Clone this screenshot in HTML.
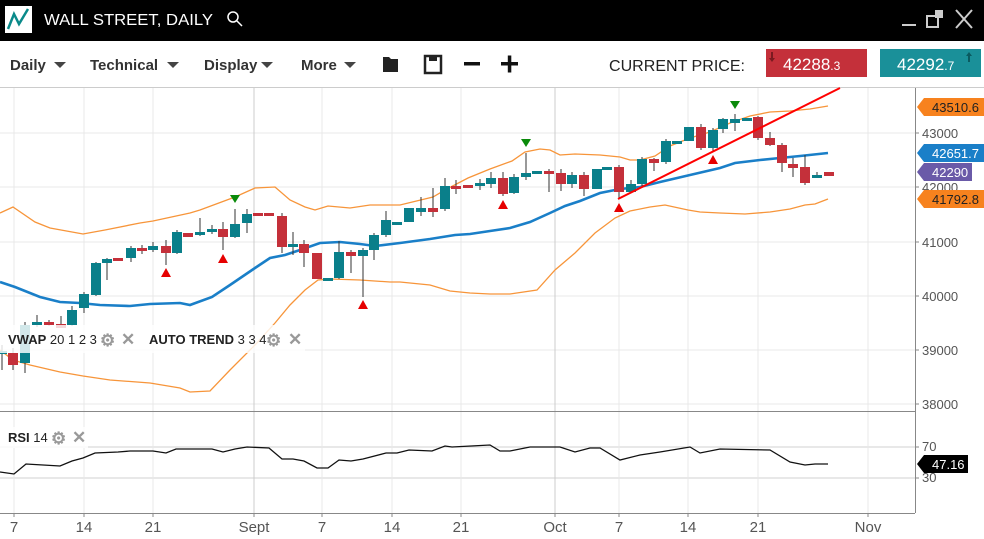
<!DOCTYPE html>
<html><head><meta charset="utf-8"><style>
body{margin:0;width:984px;height:539px;overflow:hidden;background:#fff;font-family:"Liberation Sans",sans-serif}
svg{display:block}
</style></head><body>
<svg width="984" height="539" viewBox="0 0 984 539" xmlns="http://www.w3.org/2000/svg" font-family="Liberation Sans, sans-serif">
<rect x="0" y="0" width="984" height="41" fill="#000"/>
<rect x="5" y="6" width="27" height="27" fill="#fff"/>
<polyline points="8,29 14,14 19,24 28,9" fill="none" stroke="#0a8a8a" stroke-width="2.5"/>
<text x="44" y="25" fill="#fff" font-size="16" textLength="169" lengthAdjust="spacingAndGlyphs">WALL STREET, DAILY</text>
<circle cx="233" cy="17" r="5" fill="none" stroke="#fff" stroke-width="1.5"/><line x1="237" y1="21" x2="242" y2="26" stroke="#fff" stroke-width="1.5"/>
<rect x="902" y="24" width="14" height="2" fill="#ccc"/>
<rect x="927" y="16" width="11" height="11" fill="none" stroke="#ccc" stroke-width="2"/><rect x="935" y="10" width="8" height="8" fill="#ccc"/>
<path d="M956 10 L972 28 M972 10 L956 28" stroke="#ccc" stroke-width="2"/>
<line x1="0" y1="87.5" x2="984" y2="87.5" stroke="#ccc"/>
<g font-size="15" font-weight="bold" fill="#333">
<text x="10" y="70">Daily</text><text x="90" y="70">Technical</text><text x="204" y="70">Display</text><text x="301" y="70">More</text></g>
<g fill="#444"><path d="M54 62h12l-6 6z"/><path d="M167 62h12l-6 6z"/><path d="M261 62h12l-6 6z"/><path d="M344 62h12l-6 6z"/></g>
<path d="M383 57h6l2 2h7v13h-15z" fill="#222"/>
<rect x="425" y="56" width="16" height="17" fill="none" stroke="#222" stroke-width="2.5"/><rect x="429" y="56" width="8" height="5" fill="#222"/>
<rect x="464" y="62" width="16" height="3.5" fill="#111"/>
<rect x="501" y="62" width="17" height="3.5" fill="#111"/><rect x="507.8" y="55.5" width="3.5" height="17" fill="#111"/>
<text x="609" y="71" font-size="16" fill="#222" textLength="136" lengthAdjust="spacingAndGlyphs">CURRENT PRICE:</text>
<rect x="766" y="49" width="101" height="28" fill="#c4303a"/>
<text x="783" y="70" font-size="17" fill="#fff">42288<tspan font-size="12">.3</tspan></text>
<path d="M771 52v6h-2l3 4 3-4h-2v-6z" fill="#7a1a20"/>
<rect x="880" y="49" width="101" height="28" fill="#1a9099"/>
<text x="897" y="70" font-size="17" fill="#fff">42292<tspan font-size="12">.7</tspan></text>
<path d="M968 62v-6h-2l3-4 3 4h-2v6z" fill="#0a5a60"/>

<g stroke="#e8e8e8" stroke-width="1">
<line x1="0" y1="133" x2="915" y2="133"/><line x1="0" y1="187" x2="915" y2="187"/><line x1="0" y1="242" x2="915" y2="242"/><line x1="0" y1="296" x2="915" y2="296"/><line x1="0" y1="350" x2="915" y2="350"/><line x1="0" y1="404" x2="915" y2="404"/>
<line x1="0" y1="447" x2="915" y2="447" stroke="#d0d0d0"/><line x1="0" y1="478" x2="915" y2="478" stroke="#d0d0d0"/>
<line x1="14" y1="88" x2="14" y2="513"/><line x1="84" y1="88" x2="84" y2="513"/><line x1="153" y1="88" x2="153" y2="513"/><line x1="322" y1="88" x2="322" y2="513"/><line x1="392" y1="88" x2="392" y2="513"/><line x1="461" y1="88" x2="461" y2="513"/><line x1="619" y1="88" x2="619" y2="513"/><line x1="688" y1="88" x2="688" y2="513"/><line x1="758" y1="88" x2="758" y2="513"/><line x1="868" y1="88" x2="868" y2="513"/>
<line x1="254" y1="88" x2="254" y2="513" stroke="#ccc"/><line x1="555" y1="88" x2="555" y2="513" stroke="#ccc"/>
</g>
<line x1="0" y1="411.5" x2="915" y2="411.5" stroke="#888"/>
<line x1="0" y1="513.5" x2="915" y2="513.5" stroke="#888"/>
<line x1="915.5" y1="88" x2="915.5" y2="513" stroke="#888"/>

<polyline fill="none" stroke="#f7953a" stroke-width="1.3" points="0,213 13,207 35,222 50,228 83,234 105,230 140,223 153,221 190,213 200,210 235,197 255,188 275,187 290,200 305,207 315,210 328,206 350,208 370,205 400,205 433,197 445,190 468,178 490,169 512,161 525,152 540,149 550,150 560,155 575,154 600,155 620,157 630,160 640,160 655,156 670,146 690,138 710,132 730,123 750,116 770,112 790,111 810,109 828,106"/>
<polyline fill="none" stroke="#f7953a" stroke-width="1.3" points="0,350 13,360 30,365 60,372 83,376 110,380 150,383 180,388 190,392 210,391 230,370 255,345 275,323 290,305 305,290 318,280 330,279 360,280 390,282 400,282 430,285 450,291 470,293 490,294 510,294 537,290 555,270 575,253 595,233 615,218 630,211 650,207 665,205 688,210 700,212 720,213 745,214 770,212 790,209 805,205 815,204 828,199"/>
<polyline fill="none" stroke="#1a7fc8" stroke-width="2.6" points="0,282 15,287 40,297 60,302 80,303 100,305 130,306 150,304 180,303 190,305 212,297 230,285 255,268 270,258 285,255 300,250 320,243 340,242 360,244 375,246 400,243 430,239 455,235 470,234 490,231 510,228 530,222 550,213 565,206 580,201 600,193 620,189 640,187 660,182 690,175 720,168 735,163 760,160 780,158 800,156 828,153"/>

<g stroke="#333" stroke-width="1">
<line x1="2" y1="345" x2="2" y2="370"/><line x1="13" y1="348" x2="13" y2="370"/><line x1="25" y1="322" x2="25" y2="373"/><line x1="37" y1="315" x2="37" y2="327"/><line x1="49" y1="320" x2="49" y2="326"/><line x1="61" y1="316" x2="61" y2="328"/><line x1="72" y1="306" x2="72" y2="326"/><line x1="84" y1="292" x2="84" y2="313"/><line x1="96" y1="262" x2="96" y2="296"/><line x1="107" y1="258" x2="107" y2="280"/><line x1="131" y1="246" x2="131" y2="262"/><line x1="142" y1="245" x2="142" y2="254"/><line x1="153" y1="242" x2="153" y2="252"/><line x1="166" y1="240" x2="166" y2="265"/><line x1="177" y1="230" x2="177" y2="254"/><line x1="200" y1="218" x2="200" y2="236"/><line x1="212" y1="225" x2="212" y2="234"/><line x1="223" y1="222" x2="223" y2="250"/><line x1="235" y1="209" x2="235" y2="238"/><line x1="247" y1="209" x2="247" y2="233"/><line x1="282" y1="213" x2="282" y2="253"/><line x1="293" y1="232" x2="293" y2="255"/><line x1="304" y1="240" x2="304" y2="267"/><line x1="339" y1="241" x2="339" y2="279"/><line x1="351" y1="250" x2="351" y2="273"/><line x1="363" y1="248" x2="363" y2="297"/><line x1="374" y1="233" x2="374" y2="260"/><line x1="386" y1="211" x2="386" y2="237"/><line x1="421" y1="197" x2="421" y2="216"/><line x1="433" y1="188" x2="433" y2="217"/><line x1="445" y1="178" x2="445" y2="211"/><line x1="456" y1="180" x2="456" y2="194"/><line x1="480" y1="179" x2="480" y2="190"/><line x1="491" y1="172" x2="491" y2="188"/><line x1="503" y1="172" x2="503" y2="196"/><line x1="514" y1="174" x2="514" y2="194"/><line x1="526" y1="153" x2="526" y2="180"/><line x1="549" y1="169" x2="549" y2="192"/><line x1="561" y1="169" x2="561" y2="191"/><line x1="572" y1="172" x2="572" y2="188"/><line x1="584" y1="172" x2="584" y2="196"/><line x1="619" y1="165" x2="619" y2="198"/><line x1="631" y1="180" x2="631" y2="193"/><line x1="642" y1="157" x2="642" y2="186"/><line x1="654" y1="158" x2="654" y2="171"/><line x1="666" y1="139" x2="666" y2="164"/><line x1="701" y1="124" x2="701" y2="150"/><line x1="713" y1="128" x2="713" y2="152"/><line x1="723" y1="118" x2="723" y2="133"/><line x1="735" y1="114" x2="735" y2="131"/><line x1="758" y1="116" x2="758" y2="140"/><line x1="770" y1="132" x2="770" y2="146"/><line x1="782" y1="143" x2="782" y2="172"/><line x1="793" y1="158" x2="793" y2="177"/><line x1="805" y1="155" x2="805" y2="185"/><line x1="817" y1="172" x2="817" y2="178"/>
</g>
<g fill="#c4303a">
<rect x="8" y="353" width="10" height="12"/><rect x="44" y="322" width="10" height="3"/><rect x="56" y="324" width="10" height="4"/><rect x="113" y="258" width="10" height="3"/><rect x="137" y="248" width="10" height="3"/><rect x="161" y="246" width="10" height="7"/><rect x="183" y="233" width="10" height="4"/><rect x="218" y="229" width="10" height="8"/><rect x="253" y="213" width="10" height="3"/><rect x="264" y="213" width="10" height="3"/><rect x="277" y="216" width="10" height="31"/><rect x="299" y="244" width="10" height="9"/><rect x="312" y="253" width="10" height="26"/><rect x="346" y="252" width="10" height="4"/><rect x="428" y="208" width="10" height="4"/><rect x="451" y="186" width="10" height="3"/><rect x="463" y="185" width="10" height="3"/><rect x="498" y="178" width="10" height="16"/><rect x="544" y="171" width="10" height="3"/><rect x="556" y="173" width="10" height="11"/><rect x="579" y="175" width="10" height="14"/><rect x="614" y="167" width="10" height="25"/><rect x="649" y="159" width="10" height="4"/><rect x="696" y="127" width="10" height="21"/><rect x="753" y="117" width="10" height="21"/><rect x="765" y="138" width="10" height="7"/><rect x="777" y="145" width="10" height="18"/><rect x="788" y="164" width="10" height="4"/><rect x="800" y="167" width="10" height="16"/><rect x="824" y="172" width="10" height="4"/>
</g>
<g fill="#0a7f8a">
<rect x="-3" y="351" width="10" height="3"/><rect x="20" y="325" width="10" height="38"/><rect x="32" y="322" width="10" height="3"/><rect x="67" y="310" width="10" height="15"/><rect x="79" y="294" width="10" height="14"/><rect x="91" y="263" width="10" height="32"/><rect x="102" y="259" width="10" height="4"/><rect x="126" y="248" width="10" height="10"/><rect x="148" y="246" width="10" height="4"/><rect x="172" y="232" width="10" height="21"/><rect x="195" y="232" width="10" height="3"/><rect x="207" y="229" width="10" height="3"/><rect x="230" y="224" width="10" height="13"/><rect x="242" y="214" width="10" height="9"/><rect x="288" y="244" width="10" height="3"/><rect x="323" y="278" width="10" height="3"/><rect x="334" y="252" width="10" height="26"/><rect x="358" y="250" width="10" height="6"/><rect x="369" y="235" width="10" height="15"/><rect x="381" y="220" width="10" height="15"/><rect x="392" y="222" width="10" height="3"/><rect x="404" y="208" width="10" height="14"/><rect x="416" y="208" width="10" height="4"/><rect x="440" y="186" width="10" height="23"/><rect x="475" y="183" width="10" height="3"/><rect x="486" y="178" width="10" height="6"/><rect x="509" y="177" width="10" height="16"/><rect x="521" y="173" width="10" height="4"/><rect x="532" y="171" width="10" height="3"/><rect x="567" y="175" width="10" height="9"/><rect x="592" y="169" width="10" height="20"/><rect x="602" y="167" width="10" height="3"/><rect x="626" y="184" width="10" height="8"/><rect x="637" y="159" width="10" height="25"/><rect x="661" y="141" width="10" height="21"/><rect x="672" y="141" width="10" height="3"/><rect x="684" y="127" width="10" height="14"/><rect x="708" y="130" width="10" height="18"/><rect x="718" y="119" width="10" height="10"/><rect x="730" y="119" width="10" height="4"/><rect x="742" y="118" width="10" height="3"/><rect x="812" y="175" width="10" height="3"/>
</g>
<g fill="#e60000"><path d="M161 277h10l-5-9z"/><path d="M218 263h10l-5-9z"/><path d="M358 309h10l-5-9z"/><path d="M498 209h10l-5-9z"/><path d="M614 212h10l-5-9z"/><path d="M708 164h10l-5-9z"/></g>
<g fill="#0a8a0a"><path d="M230 195h10l-5 8z"/><path d="M521 139h10l-5 8z"/><path d="M730 101h10l-5 8z"/></g>
<line x1="618" y1="199" x2="840" y2="88" stroke="#f00" stroke-width="2"/>

<rect x="0" y="325" width="305" height="28" fill="#fff" fill-opacity="0.82"/>
<text x="8" y="344" font-size="13" fill="#222"><tspan font-weight="bold">VWAP</tspan> 20 1 2 3</text>
<text x="149" y="344" font-size="13" fill="#222"><tspan font-weight="bold">AUTO TREND</tspan> 3 3 4</text>
<g fill="#999" font-size="17" font-weight="bold"><text x="100" y="346">⚙</text><text x="121" y="345">✕</text><text x="266" y="346">⚙</text><text x="288" y="345">✕</text></g>

<polyline fill="none" stroke="#111" stroke-width="1.3" points="0,472 14,474 26,464 60,466 72,461 83,458 95,453 118,452 130,451 153,451 166,453 176,449 212,449 223,452 235,449 247,447 269,448 282,459 293,459 304,461 317,468 328,468 339,460 351,461 363,459 386,453 397,453 409,450 432,451 445,446 452,447 490,445 500,451 510,451 530,447 560,447 575,452 590,448 600,448 620,460 640,455 660,452 690,447 700,453 720,449 770,450 790,462 805,465 815,464 828,464"/>
<rect x="0" y="427" width="88" height="21" fill="#fff" fill-opacity="0.82"/>
<text x="8" y="442" font-size="13" fill="#222"><tspan font-weight="bold">RSI</tspan> 14</text>
<g fill="#999" font-size="17" font-weight="bold"><text x="51" y="444">⚙</text><text x="72" y="443">✕</text></g>

<g font-size="13" fill="#555">
<text x="922" y="138">43000</text><text x="922" y="192">42000</text><text x="922" y="247">41000</text><text x="922" y="301">40000</text><text x="922" y="355">39000</text><text x="922" y="409">38000</text>
<text x="922" y="451">70</text><text x="922" y="482">30</text>
</g>
<g stroke="#888"><line x1="915" y1="133" x2="919" y2="133"/><line x1="915" y1="187" x2="919" y2="187"/><line x1="915" y1="242" x2="919" y2="242"/><line x1="915" y1="296" x2="919" y2="296"/><line x1="915" y1="350" x2="919" y2="350"/><line x1="915" y1="404" x2="919" y2="404"/><line x1="915" y1="447" x2="919" y2="447"/><line x1="915" y1="478" x2="919" y2="478"/>
<line x1="14" y1="513" x2="14" y2="517"/><line x1="84" y1="513" x2="84" y2="517"/><line x1="153" y1="513" x2="153" y2="517"/><line x1="254" y1="513" x2="254" y2="517"/><line x1="322" y1="513" x2="322" y2="517"/><line x1="392" y1="513" x2="392" y2="517"/><line x1="461" y1="513" x2="461" y2="517"/><line x1="555" y1="513" x2="555" y2="517"/><line x1="619" y1="513" x2="619" y2="517"/><line x1="688" y1="513" x2="688" y2="517"/><line x1="758" y1="513" x2="758" y2="517"/><line x1="868" y1="513" x2="868" y2="517"/></g>
<g font-size="15" fill="#555" text-anchor="middle">
<text x="14" y="532">7</text><text x="84" y="532">14</text><text x="153" y="532">21</text><text x="254" y="532">Sept</text><text x="322" y="532">7</text><text x="392" y="532">14</text><text x="461" y="532">21</text><text x="555" y="532">Oct</text><text x="619" y="532">7</text><text x="688" y="532">14</text><text x="758" y="532">21</text><text x="868" y="532">Nov</text>
</g>

<g font-size="13">
<path d="M917 107 L924 98 H984 V116 H924 Z" fill="#f7821e"/><text x="932" y="112" fill="#222">43510.6</text>
<path d="M917 153 L924 144 H984 V162 H924 Z" fill="#1a7fc8"/><text x="932" y="158" fill="#fff">42651.7</text>
<path d="M917 172 L924 163 H972 V181 H924 Z" fill="#6a5aa8"/><text x="932" y="177" fill="#fff">42290</text>
<path d="M917 199 L924 190 H984 V208 H924 Z" fill="#f7821e"/><text x="932" y="204" fill="#222">41792.8</text>
<path d="M917 464 L924 455 H968 V473 H924 Z" fill="#000"/><text x="932" y="469" fill="#fff">47.16</text>
</g>
</svg>
</body></html>
